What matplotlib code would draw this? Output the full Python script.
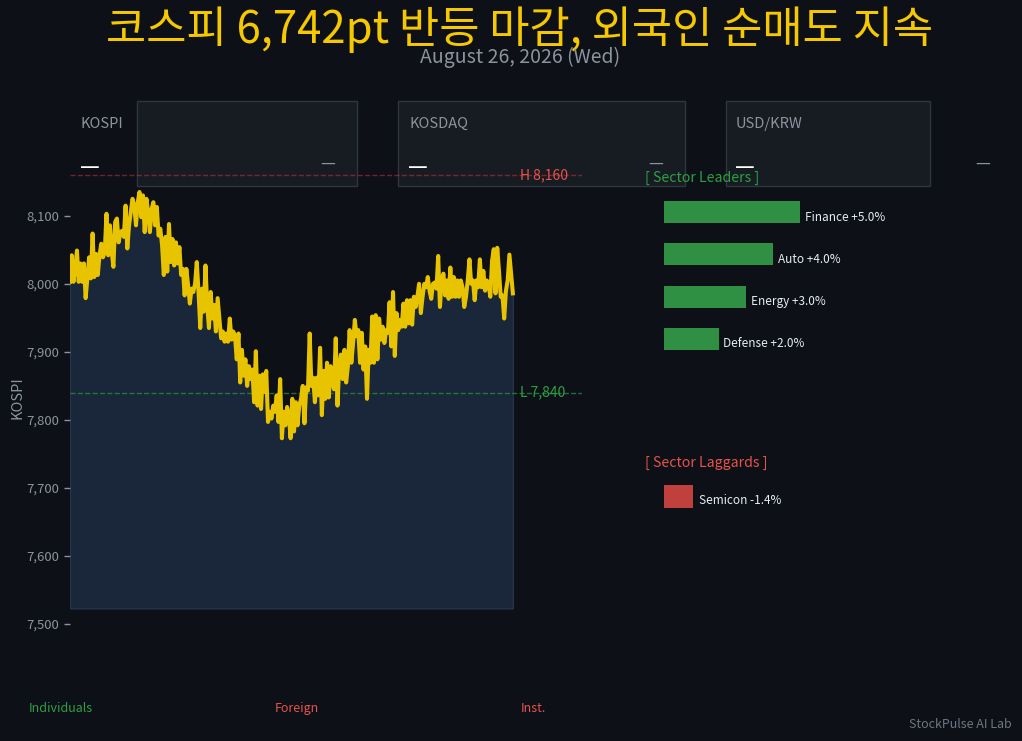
import matplotlib
matplotlib.use('Agg')
import matplotlib.pyplot as plt
from matplotlib.patches import Rectangle
from matplotlib.ticker import FuncFormatter
import numpy as np

plt.rcParams['font.family'] = ['Noto Sans CJK KR', 'DejaVu Sans']

# ---- data ----
title = '코스피 6,742pt 반등 마감, 외국인 순매도 지속'
subtitle = 'August 26, 2026 (Wed)'

kospi = [
    8003, 8042, 8003, 8022, 8049, 8003, 8030, 8003, 8030, 7979, 8008, 8039,
    8008, 8074, 8010, 8044, 8013, 8042, 8059, 8039, 8047, 8103, 8042, 8086,
    8047, 8025, 8091, 8096, 8061, 8076, 8078, 8069, 8115, 8052, 8086, 8105,
    8125, 8115, 8086, 8120, 8135, 8098, 8130, 8076, 8125, 8105,
    8076, 8110, 8120, 8086, 8113, 8071, 8081, 8057, 8013, 8069, 8018, 8088,
    8032, 8066, 8027, 8061, 8030, 8054, 8013, 8022, 7983, 8022, 7998, 7971,
    7993, 7988, 8000, 8032, 7988, 7935, 7993, 7959, 8027, 7969, 7935, 7988,
    7949, 7969, 7930, 7979, 7949, 7920, 7930, 7915, 7927, 7915, 7949, 7918,
    7930,
    7923, 7889, 7927, 7855, 7903, 7865, 7889, 7850, 7879, 7860, 7874, 7826,
    7901, 7821, 7865, 7816, 7867, 7841, 7872, 7797, 7812, 7802, 7821, 7812,
    7836, 7797, 7860, 7773, 7812, 7792, 7819, 7807, 7773, 7831, 7783, 7826,
    7792, 7821, 7831, 7850, 7795, 7848, 7843, 7927, 7850, 7862, 7826, 7862,
    7836, 7906, 7807, 7872, 7831, 7884, 7833, 7879, 7855, 7845, 7920, 7821,
    7879, 7896, 7860, 7903, 7855, 7879, 7932, 7884, 7913, 7947, 7923,
    7932, 7884, 7928, 7874, 7908, 7831, 7903, 7884, 7952, 7884, 7954, 7889,
    7949, 7918, 7937, 7913, 7932, 7928, 7973, 7908, 7988, 7894, 7957, 7932,
    7947, 7937, 7971, 7937, 7976, 7942, 7976, 7940, 7981, 7966, 7981, 8000,
    7957, 7981, 8000, 7995, 8010, 7990, 7978, 8000, 8002, 7993, 8041, 7966,
    8005, 8015, 7983, 8005, 7978, 8024, 7981, 8010, 7981, 8005, 7981, 8005,
    7995, 7966, 7981, 8005, 8036, 8000, 8005, 7976, 8005, 7995, 8036, 7995,
    8019, 7990, 8005, 8000, 7981, 8034, 8051, 7986, 8053, 8019, 7981, 7983,
    7949, 7990, 8005, 8043, 8015, 7986,
]
day_high = 8160
day_low = 7840

cards = ['KOSPI', 'KOSDAQ', 'USD/KRW']

leader_names = ['Finance', 'Auto', 'Energy', 'Defense']
leader_pct = [5.0, 4.0, 3.0, 2.0]
laggard_names = ['Semicon']
laggard_pct = [-1.4]

flow_names = ['Individuals', 'Foreign', 'Inst.']

# ---- colours ----
BG = '#0d1017'
GRAY = '#8b949e'
GOLD = '#e8c300'
GREEN = '#2ea043'
RED = '#e5534b'

W, H = 1022, 741
def fx(px):
    return px / W
def fy(py):
    return 1 - py / H

fig = plt.figure(figsize=(W / 100, H / 100), dpi=100, facecolor=BG)

fig.text(fx(520), fy(30), title, color='#f5c800', fontsize=31.5,
         ha='center', va='center')
fig.text(fx(520), fy(57), subtitle, color=GRAY, fontsize=14,
         ha='center', va='center')

# ---- main price chart ----
ax = fig.add_axes([fx(70), fy(637.6), 512 / W, 479.6 / H])
ax.set_facecolor('none')
y = np.array(kospi, dtype=float)
x = np.arange(len(y))
xmax = (len(y) - 1) / 0.865
ax.set_xlim(0, xmax)
ax.set_ylim(7480, 8185)

ax.fill_between(x, y, y.min() - 250, facecolor='#1a2639', edgecolor='#24344a',
                lw=1, zorder=1)
ax.plot(x, y, color=GOLD, lw=2.9, zorder=3, solid_joinstyle='round')

ax.axhline(day_high, color='#da3633', ls='--', lw=1, alpha=0.5, zorder=2)
ax.axhline(day_low, color=GREEN, ls='--', lw=1, alpha=0.65, zorder=2)
off = 7 * xmax / 512
ax.text(len(y) - 1 + off, day_high, f'H {day_high:,}', color=RED,
        fontsize=10, va='center', ha='left')
ax.text(len(y) - 1 + off, day_low, f'L {day_low:,}', color=GREEN,
        fontsize=10, va='center', ha='left')

ax.set_yticks([7500, 7600, 7700, 7800, 7900, 8000, 8100])
ax.yaxis.set_major_formatter(FuncFormatter(lambda v, p: f'{v:,.0f}'))
ax.tick_params(axis='y', colors=GRAY, labelsize=9.5, length=4.5, width=1)
ax.set_xticks([])
for s in ax.spines.values():
    s.set_visible(False)
ax.set_ylabel('KOSPI', color=GRAY, fontsize=10.5, labelpad=1)

# ---- index cards (behind the chart) ----
card_boxes = [(137, 357), (398, 685), (726, 930)]
label_x = [81, 409, 736]
for name, (l, r), lx in zip(cards, card_boxes, label_x):
    fig.patches.append(Rectangle((fx(l), fy(186)), (r - l) / W, 85 / H,
                                 transform=fig.transFigure, facecolor='#171b22',
                                 edgecolor='#30363d', lw=1, zorder=-1))
    fig.text(fx(lx), fy(124), name, color=GRAY, fontsize=10.5, va='center')
    fig.text(fx(lx - 1), fy(167), '\u2014', color='white', fontsize=16,
             va='center')
    fig.text(fx(lx + 239), fy(163), '\u2014', color=GRAY, fontsize=12,
             va='center')

# ---- sector leaders ----
fig.text(fx(645), fy(178), '[ Sector Leaders ]', color=GREEN, fontsize=10.2,
         va='center')
axl = fig.add_axes([fx(664), fy(360), 300 / W, 169 / H])
axl.axis('off')
axl.barh(range(len(leader_pct)), leader_pct, height=0.52, color='#2f8f43')
axl.set_xlim(0, 11)
axl.set_ylim(len(leader_pct) - 0.5, -0.5)
for i, (n, v) in enumerate(zip(leader_names, leader_pct)):
    axl.text(v + 0.18, i + 0.12, f'{n} {v:+.1f}%', color='#e6edf3',
             fontsize=8.5, va='center')

# ---- sector laggards ----
fig.text(fx(645), fy(463), '[ Sector Laggards ]', color=RED, fontsize=10.2,
         va='center')
axg = fig.add_axes([fx(664), fy(518), 300 / W, 43 / H])
axg.axis('off')
lag_abs = [abs(v) for v in laggard_pct]
axg.barh(range(len(lag_abs)), lag_abs, height=0.54, color='#c0403d')
axg.set_xlim(0, 14.5)
axg.set_ylim(len(lag_abs) - 0.5, -0.5)
for i, (n, v) in enumerate(zip(laggard_names, laggard_pct)):
    axg.text(abs(v) + 0.3, i + 0.1, f'{n} {v:.1f}%', color='#e6edf3',
             fontsize=8.5, va='center')

# ---- investor flows ----
flow_colors = [GREEN, RED, RED]
for k, (n, c) in enumerate(zip(flow_names, flow_colors)):
    fig.text(fx(29 + 246 * k), fy(712), n, color=c, fontsize=9,
             va='baseline')

fig.text(fx(1012), fy(725), 'StockPulse AI Lab', color='#6e7681', fontsize=9,
         ha='right', va='center')

fig.savefig('out.png', dpi=100, facecolor=BG)
